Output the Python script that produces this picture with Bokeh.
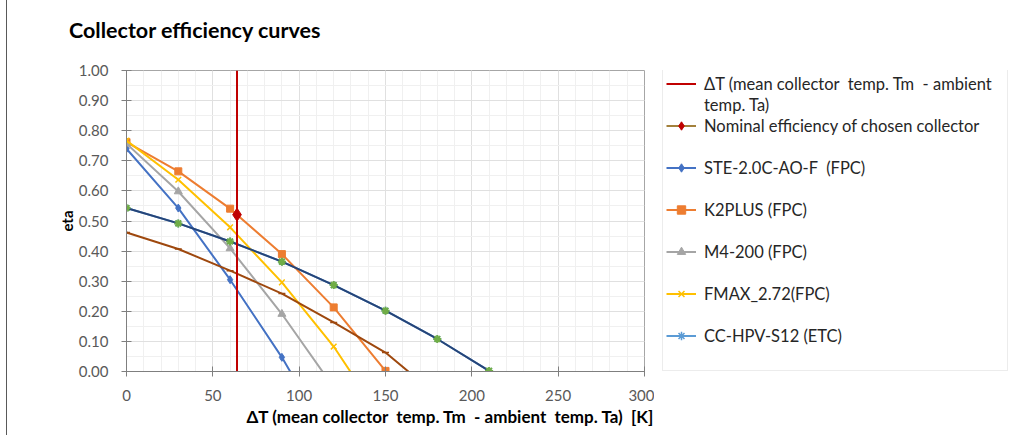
from bokeh.plotting import figure
from bokeh.models import (Range1d, SingleIntervalTicker, NumeralTickFormatter,
                          Legend, LegendItem, Title, Div)
from bokeh.layouts import row, column
from bokeh.embed import file_html
from bokeh.resources import INLINE

# ---------------- data ----------------
dT_chosen = 64          # ΔT of chosen operating point [K]
dT_line_eta = [0.0, 1.0]
nominal_eta = 0.521     # nominal efficiency of chosen collector

ste_x = [0, 30, 60, 90, 120]
ste_y = [0.740, 0.543, 0.305, 0.047, -0.247]

k2_x = [0, 30, 60, 90, 120, 150]
k2_y = [0.762, 0.665, 0.541, 0.390, 0.213, 0.002]

m4_x = [0, 30, 60, 90, 120]
m4_y = [0.757, 0.598, 0.409, 0.191, -0.053]

fmax_x = [0, 30, 60, 90, 120, 150]
fmax_y = [0.767, 0.637, 0.479, 0.296, 0.083, -0.176]

cc_x = [0, 30, 60, 90, 120, 150, 180, 210]
cc_y = [0.543, 0.492, 0.432, 0.365, 0.287, 0.202, 0.108, 0.002]

chosen_x = [0, 30, 60, 90, 120, 150, 180]
chosen_y = [0.462, 0.407, 0.335, 0.259, 0.163, 0.063, -0.080]

x_ticks_interval = 50
y_ticks_interval = 0.1

NB = "\u00a0"
title_text = "Collector efficiency curves"
x_title = f"ΔT (mean collector {NB}temp. Tm {NB}- ambient {NB}temp. Ta) {NB}[K]"
y_title = "eta"
legend_labels = [f"ΔT (mean collector {NB}temp. Tm {NB}- ambient", "temp. Ta)",
                 "Nominal efficiency of chosen collector",
                 f"STE-2.0C-AO-F {NB}(FPC)", "K2PLUS (FPC)", "M4-200 (FPC)",
                 "FMAX_2.72(FPC)", "CC-HPV-S12 (ETC)"]

FONT = "Lato"
LW = 2
C_DT, C_NOM, C_NOM_LEG = "#c00000", "#c00000", "#a3813c"
C_STE, C_K2, C_M4, C_FM, C_CC = "#4472c4", "#ed7d31", "#a5a5a5", "#ffc000", "#5b9bd5"
C_CC_DRAWN, C_CC_MARK, C_CHOSEN = "#264478", "#70ad47", "#9e480e"


def add_series(fig, visible=True):
    """Draw the legend series on fig; returns renderer lists."""
    r = {}
    r["cc"] = [fig.line(cc_x, cc_y, line_color=C_CC, line_width=LW, visible=visible),
               fig.scatter(cc_x, cc_y, marker="asterisk", size=8, line_color=C_CC,
                           line_width=1.5, visible=visible)]
    r["ste"] = [fig.line(ste_x, ste_y, line_color=C_STE, line_width=LW, visible=visible),
                fig.scatter(ste_x, ste_y, marker="diamond", size=8, color=C_STE,
                            visible=visible)]
    r["k2"] = [fig.line(k2_x, k2_y, line_color=C_K2, line_width=LW, visible=visible),
               fig.scatter(k2_x, k2_y, marker="square", size=7, color=C_K2,
                           visible=visible)]
    r["m4"] = [fig.line(m4_x, m4_y, line_color=C_M4, line_width=LW, visible=visible),
               fig.scatter(m4_x, m4_y, marker="triangle", size=8, color=C_M4,
                           visible=visible)]
    r["fm"] = [fig.line(fmax_x, fmax_y, line_color=C_FM, line_width=LW, visible=visible),
               fig.scatter(fmax_x, fmax_y, marker="x", size=8, line_color=C_FM,
                           line_width=1.5, visible=visible)]
    r["dt"] = [fig.line([dT_chosen, dT_chosen], dT_line_eta, line_color=C_DT,
                        line_width=2, visible=visible)]
    r["nom"] = [fig.line([dT_chosen], [nominal_eta], line_color=C_NOM_LEG,
                         line_width=LW, visible=visible),
                fig.scatter([dT_chosen], [nominal_eta], marker="diamond", size=13,
                            color=C_NOM, visible=visible)]
    return r


# ---------------- main chart ----------------
p = figure(width=647, height=380, x_range=Range1d(0, 300), y_range=Range1d(0, 1),
           output_backend="svg", toolbar_location=None,
           min_border_left=119, min_border_right=10,
           min_border_top=15, min_border_bottom=64)
p.background_fill_color = "white"
p.border_fill_color = "white"
p.outline_line_color = "#a6a6a6"

p.xaxis.ticker = SingleIntervalTicker(interval=x_ticks_interval, num_minor_ticks=5)
p.yaxis.ticker = SingleIntervalTicker(interval=y_ticks_interval, num_minor_ticks=2)
p.yaxis.formatter = NumeralTickFormatter(format="0.00")
for ax in (p.xaxis, p.yaxis):
    ax.axis_line_color = "#7f7f7f"
    ax.major_tick_line_color = "#7f7f7f"
    ax.major_tick_in = 5
    ax.major_tick_out = 5
    ax.minor_tick_line_color = None
    ax.major_label_text_font = FONT
    ax.major_label_text_font_size = "15px"
    ax.major_label_text_color = "#595959"
p.yaxis.major_label_standoff = 13
p.xaxis.major_label_standoff = 13
p.yaxis.axis_label = y_title
p.yaxis.axis_label_text_font = FONT
p.yaxis.axis_label_text_font_style = "bold"
p.yaxis.axis_label_text_font_size = "15px"
p.yaxis.axis_label_text_color = "#000000"
p.yaxis.axis_label_standoff = 0

for g in (p.xgrid, p.ygrid):
    g.grid_line_color = "#e0e0e0"
    g.minor_grid_line_color = "#f0f0f0"

main_r = add_series(p)
# curve of the chosen collector (no legend entry) and CC-HPV-S12 as drawn
p.line(chosen_x, chosen_y, line_color=C_CHOSEN, line_width=LW)
p.scatter(chosen_x, chosen_y, marker="dash", size=7, line_color=C_CHOSEN, line_width=1.5)
p.line(cc_x, cc_y, line_color=C_CC_DRAWN, line_width=LW)
p.scatter(cc_x, cc_y, marker="asterisk", size=8, line_color=C_CC_MARK, line_width=2)
# red ΔT line and nominal point on top
top = main_r["dt"] + main_r["nom"]
p.renderers = [r for r in p.renderers if r not in top] + top

p.add_layout(Title(text=x_title, align="left", offset=120, standoff=0,
                   text_font=FONT, text_font_size="17px", text_font_style="bold",
                   text_color="#000000"), "below")

# ---------------- legend panel ----------------
p_leg = figure(width=359, height=380, x_range=Range1d(0, 300), y_range=Range1d(0, 1),
               output_backend="svg", toolbar_location=None,
               x_axis_location=None, y_axis_location=None,
               min_border_left=0, min_border_right=0, min_border_top=15,
               min_border_bottom=64)
p_leg.outline_line_color = None
p_leg.grid.visible = False
p_leg.background_fill_color = "white"
p_leg.border_fill_color = "white"

leg_r = add_series(p_leg, visible=False)
r_blank = p_leg.line([], [], line_alpha=0)

items = [
    LegendItem(label=legend_labels[0], renderers=leg_r["dt"]),
    LegendItem(label=legend_labels[1], renderers=[r_blank]),
    LegendItem(label=legend_labels[2], renderers=leg_r["nom"]),
    LegendItem(label=" ", renderers=[r_blank]),
    LegendItem(label=legend_labels[3], renderers=leg_r["ste"]),
    LegendItem(label=" ", renderers=[r_blank]),
    LegendItem(label=legend_labels[4], renderers=leg_r["k2"]),
    LegendItem(label=" ", renderers=[r_blank]),
    LegendItem(label=legend_labels[5], renderers=leg_r["m4"]),
    LegendItem(label=" ", renderers=[r_blank]),
    LegendItem(label=legend_labels[6], renderers=leg_r["fm"]),
    LegendItem(label=" ", renderers=[r_blank]),
    LegendItem(label=legend_labels[7], renderers=leg_r["cc"]),
    LegendItem(label=" ", renderers=[r_blank]),
]
legend = Legend(items=items, location=(8, 0), padding=3, spacing=0,
                label_height=21, glyph_height=21, glyph_width=30,
                label_standoff=8, label_width=300, margin=0,
                border_line_color="#d9d9d9", border_line_width=1,
                background_fill_color="white", background_fill_alpha=1,
                inactive_fill_alpha=0,
                label_text_font=FONT, label_text_font_size="16.5px",
                label_text_color="#262626")
p_leg.add_layout(legend)

# ---------------- title ----------------
title_div = Div(text=(f'<div style="position:relative; left:62px; top:17px; '
                      f'font-family:{FONT}; font-size:21.5px; font-weight:bold; '
                      f'color:#000; white-space:nowrap; line-height:26px;">'
                      f'{title_text}</div>'),
                width=600, height=55, margin=0)

layout = column(title_div, row(p, p_leg, spacing=0), spacing=0)
layout.styles = {"margin-left": "6px", "border-left": "1.5px solid #595959"}

open("out.html", "w").write(file_html(layout, INLINE))
